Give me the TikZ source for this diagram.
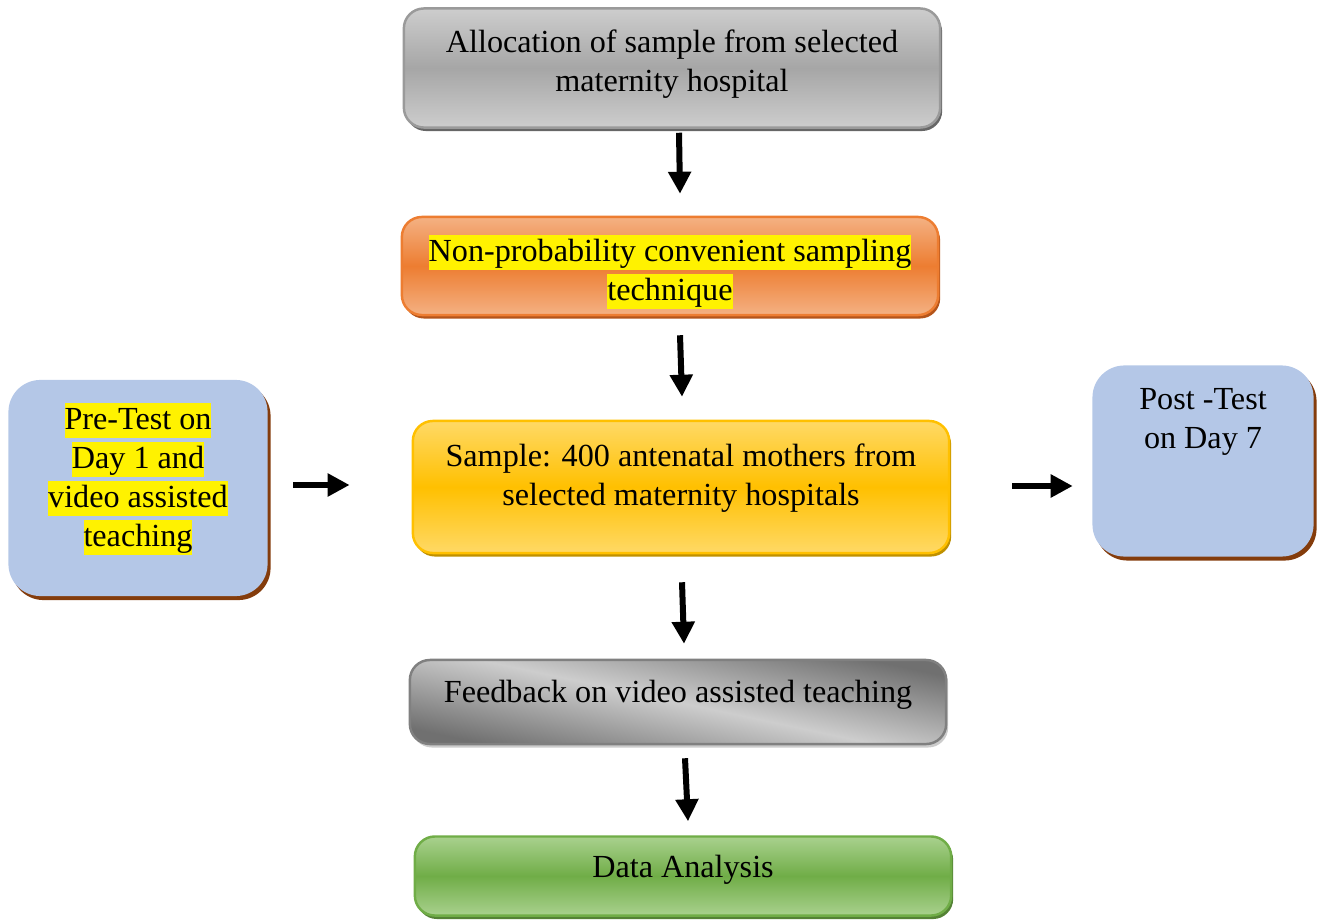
\documentclass[tikz,border=0pt]{standalone}
\usepackage{fontspec}
\setmainfont{Liberation Serif}
\usetikzlibrary{arrows.meta,shadows,calc}

\definecolor{greyLight}{HTML}{CDCDCD}
\definecolor{greyMid}{HTML}{A6A6A6}
\definecolor{greyEdge}{HTML}{9A9A9A}
\definecolor{orangeLight}{HTML}{F4B183}
\definecolor{orangeMid}{HTML}{ED7D31}
\definecolor{orangeShadow}{HTML}{B4541A}
\definecolor{goldLight}{HTML}{FFD966}
\definecolor{goldMid}{HTML}{FFC000}
\definecolor{goldShadow}{HTML}{BF9000}
\definecolor{fbDark}{HTML}{707070}
\definecolor{fbLight}{HTML}{CDCDCD}
\definecolor{greenLight}{HTML}{A9D18E}
\definecolor{greenMid}{HTML}{70AD47}
\definecolor{greenShadow}{HTML}{548235}
\definecolor{sideBlue}{HTML}{B4C7E7}
\definecolor{sideShadow}{HTML}{843C0C}

\newcommand{\hlt}[1]{{\setlength{\fboxsep}{0pt}\colorbox{yellow}{\rule[-2.6pt]{0pt}{10.2pt}#1}}}

\begin{document}
\begin{tikzpicture}[x=0.01cm,y=-0.01cm]
\tikzstyle{stepbox} = [rectangle, rounded corners=0.2cm, minimum width=5.36cm, inner sep=0pt, line width=0.7pt]
\tikzstyle{sidebox} = [rectangle, rounded corners=0.32cm, inner sep=0pt, fill=sideBlue,
  drop shadow={shadow xshift=0.03cm, shadow yshift=-0.04cm, fill=sideShadow, opacity=1}]
\tikzstyle{txt} = [align=center, inner sep=0pt, font=\fontsize{9.15}{11.1}\selectfont]
\tikzstyle{edge} = [-{Triangle[length=0.22cm,width=0.22cm]}, line width=0.06cm]

\useasboundingbox (0,0) rectangle (1319,922);
% -----------------------------------
% Main column
\node[stepbox, minimum height=1.19cm, draw=greyEdge, top color=greyLight, bottom color=greyLight, middle color=greyMid,
  drop shadow={shadow xshift=0.02cm, shadow yshift=-0.035cm, fill=gray!80!black, opacity=1}] (alloc) at (672,68) {};
\node[txt] (allocText) at (672,64) {Allocation of sample from selected\\maternity hospital};

\node[stepbox, minimum height=0.98cm, draw=orangeMid, top color=orangeLight, bottom color=orangeLight, middle color=orangeMid,
  drop shadow={shadow xshift=0.02cm, shadow yshift=-0.035cm, fill=orangeShadow, opacity=1}] (sampling) at (670,266) {};
\node[txt] (samplingText) at (670,272) {\hlt{Non-probability convenient sampling}\\\hlt{technique}};

\node[stepbox, minimum height=1.32cm, draw=goldMid, top color=goldLight, bottom color=goldLight, middle color=goldMid,
  drop shadow={shadow xshift=0.02cm, shadow yshift=-0.035cm, fill=goldShadow, opacity=1}] (sample) at (681,487) {};
\node[txt] (sampleText) at (681,478) {Sample: 400 antenatal mothers from\\selected maternity hospitals};

\node[stepbox, minimum height=0.84cm, draw=gray, top color=fbDark, bottom color=fbDark, middle color=fbLight, shading angle=-12,
  drop shadow={shadow xshift=0.02cm, shadow yshift=-0.035cm, fill=gray!40, opacity=1}] (feedback) at (678,702) {};
\node[txt] (feedbackText) at (678,695) {Feedback on video assisted teaching};

\node[stepbox, minimum height=0.79cm, draw=greenMid, top color=greenLight, bottom color=greenLight, middle color=greenMid,
  drop shadow={shadow xshift=0.02cm, shadow yshift=-0.035cm, fill=greenShadow, opacity=1}] (analysis) at (683,876) {};
\node[txt] (analysisText) at (683,870) {Data Analysis};

% -----------------------------------
% Side boxes
\node[sidebox, minimum width=2.59cm, minimum height=2.16cm] (pretest) at (138,488) {};
\node[txt] (pretestText) at (138,479) {\hlt{Pre-Test on}\\\hlt{Day 1 and}\\\hlt{video assisted}\\\hlt{teaching}};

\node[sidebox, minimum width=2.21cm, minimum height=1.91cm] (posttest) at (1203,461) {};
\node[txt] (posttestText) at (1203,422) {Post -Test\\on Day 7};

% -----------------------------------
% Arrows
\draw[edge] ($(alloc.south)+(7,4)$) -- ($(sampling.north)+(10,-22)$);
\draw[edge] ($(sampling.south)+(10,19)$) -- ($(sample.north)+(1,-23)$);
\draw[edge] ($(sample.south)+(1,28)$) -- ($(feedback.north)+(6,-15)$);
\draw[edge] ($(feedback.south)+(7,13)$) -- ($(analysis.north)+(5,-14)$);
\draw[edge] ($(pretest.east)+(25,-3)$) -- ($(sample.west)+(-62,-2)$);
\draw[edge] ($(sample.east)+(62,-1)$) -- ($(posttest.west)+(-19,25)$);
% -----------------------------------
\end{tikzpicture}
\end{document}
